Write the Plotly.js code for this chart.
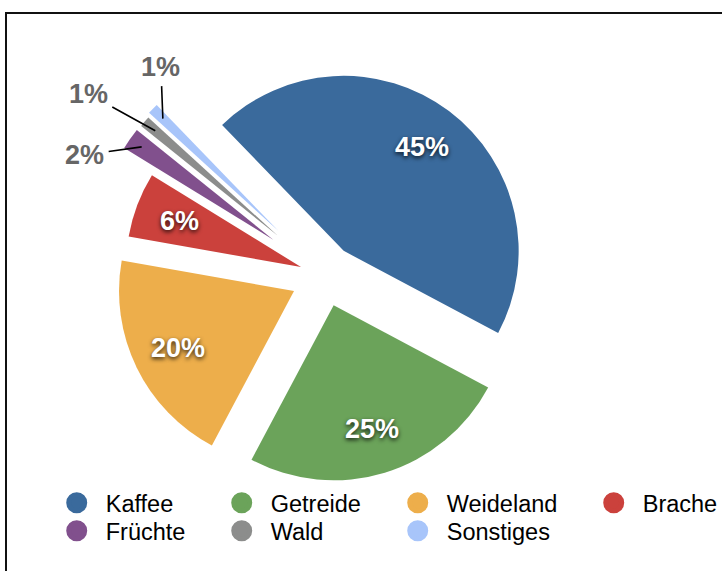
<!DOCTYPE html>
<html><head><meta charset="utf-8">
<script src="https://cdn.plot.ly/plotly-3.0.1.min.js"></script>
<style>html,body{margin:0;padding:0;background:#fff;} #chart{width:722px;height:571px;}</style>
</head><body><div id="chart"></div>
<script>
// ---- data ----
const categories = ['Kaffee', 'Getreide', 'Weideland', 'Brache', 'Früchte', 'Wald', 'Sonstiges'];
const values = [45, 25, 20, 6, 2, 1, 1];
const colors = ['#3A6A9C', '#6BA35A', '#EDAE4B', '#CB413C', '#81508D', '#8C8D8C', '#A8C5FA'];
const pulls = [0.18, 0.175, 0.195, 0.145, 0.36, 0.355, 0.37];

// ---- label / legend styling (not data) ----
const insideLabel = [true, true, true, true, false, false, false];
const outsideTextOffset = {4: [-57, 8], 5: [-67, -37], 6: [-2, -52]};
const legendRow = ['legend', 'legend', 'legend', 'legend', 'legend2', 'legend2', 'legend2'];
const legendColWidth = [102, 113, 133, 80, 102, 113, 133];
const FONT = 'Liberation Sans, Arial, Helvetica, sans-serif';

const total = values.reduce((a, b) => a + b, 0);
const pctText = values.map(v => Math.round(v / total * 100) + '%');

const pie = {
  type: 'pie',
  labels: categories,
  values: values,
  marker: {colors: colors, line: {width: 0}},
  pull: pulls,
  sort: false,
  direction: 'clockwise',
  rotation: -44,
  textinfo: 'none',
  hoverinfo: 'skip',
  showlegend: false,
  domain: {x: [0.11766, 0.78179], y: [0.09676, 0.93652]}
};

const legendTraces = categories.map((c, i) => ({
  type: 'scatter', mode: 'markers', x: [null], y: [null], name: c,
  legend: legendRow[i], legendwidth: legendColWidth[i],
  marker: {color: colors[i], size: 16, symbol: 'circle', line: {color: colors[i], width: 5}},
  hoverinfo: 'skip', showlegend: true
}));

const legendBase = {
  orientation: 'h', x: 0.0661, xanchor: 'left', yanchor: 'top',
  font: {family: FONT, size: 23.5, color: '#000'},
  itemwidth: 48, traceorder: 'normal', bgcolor: 'rgba(0,0,0,0)', borderwidth: 0
};

const layout = {
  width: 722, height: 571,
  margin: {l: 0, r: 0, t: 0, b: 0, autoexpand: false},
  paper_bgcolor: '#fff', plot_bgcolor: '#fff',
  xaxis: {visible: false}, yaxis: {visible: false},
  showlegend: true,
  legend: Object.assign({}, legendBase, {y: 0.1576}),
  legend2: Object.assign({}, legendBase, {y: 0.1086}),
  shapes: [{
    type: 'rect', xref: 'paper', yref: 'paper',
    x0: 6 / 722, x1: 1.2, y0: -0.2, y1: 1 - 13 / 571,
    line: {color: '#111', width: 2}, fillcolor: 'rgba(0,0,0,0)'
  }]
};

const gd = document.getElementById('chart');
Plotly.newPlot(gd, [pie].concat(legendTraces), layout, {displayModeBar: false, staticPlot: true}).then(() => {
  const cd = gd.calcdata[0];
  const cd0 = cd[0];
  const r = cd0.r, cx = cd0.cx, cy = cd0.cy;
  const sz = gd._fullLayout._size;
  const toPaperX = px => (px - sz.l) / sz.w;
  const toPaperY = py => 1 - (py - sz.t) / sz.h;
  const anns = [];
  categories.forEach((c, i) => {
    const pt = cd[i];
    const dx = pt.pxmid[0] / r, dy = pt.pxmid[1] / r;
    const tipX = cx + pulls[i] * r * dx, tipY = cy + pulls[i] * r * dy;
    if (insideLabel[i]) {
      const f = 0.74;
      anns.push({
        xref: 'paper', yref: 'paper', x: toPaperX(tipX + f * r * dx), y: toPaperY(tipY + f * r * dy),
        text: pctText[i], showarrow: false, xanchor: 'center', yanchor: 'middle',
        font: {family: FONT, size: 27, color: '#fff', weight: 'bold', shadow: '0px 2px 4px rgba(0,0,0,0.8)'}
      });
    } else {
      const f = 0.92;
      const off = outsideTextOffset[i];
      anns.push({
        xref: 'paper', yref: 'paper', x: toPaperX(tipX + f * r * dx), y: toPaperY(tipY + f * r * dy),
        text: pctText[i], showarrow: true, arrowhead: 0, arrowwidth: 1.6, arrowcolor: '#000',
        ax: off[0], ay: off[1], borderpad: 4,
        font: {family: FONT, size: 27, color: '#666', weight: 'bold'}
      });
    }
  });
  return Plotly.relayout(gd, {annotations: anns});
});
</script>
</body></html>
